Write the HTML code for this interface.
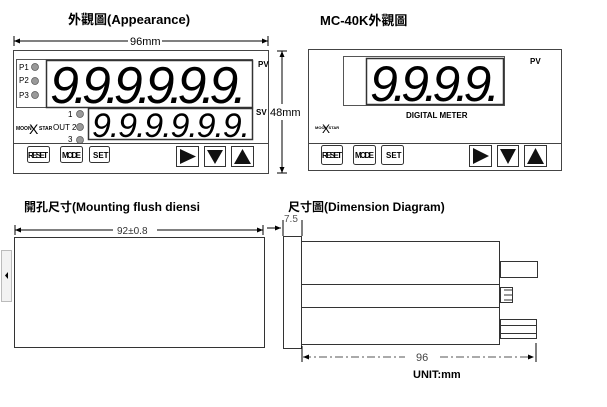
<!DOCTYPE html>
<html><head><meta charset="utf-8"><style>
html,body{margin:0;padding:0;background:#fff;}
svg{display:block;font-family:"Liberation Sans","Noto Sans CJK TC",sans-serif;}
.b{font-weight:bold;}
</style></head><body>
<svg width="607" height="407" viewBox="0 0 607 407" xmlns="http://www.w3.org/2000/svg">
<defs>
<marker id="ar" markerWidth="6" markerHeight="6" refX="6" refY="3" orient="auto"><path d="M0,0.5 L6,3 L0,5.5z" fill="#000"/></marker>
<marker id="al" markerWidth="6" markerHeight="6" refX="0" refY="3" orient="auto"><path d="M6,0.5 L0,3 L6,5.5z" fill="#000"/></marker>
</defs>
<!-- titles -->
<text x="68" y="24" font-size="13" class="b">外觀圖(Appearance)</text>
<text x="320" y="25" font-size="13" class="b">MC-40K外觀圖</text>
<!-- 96mm dim -->
<line x1="14" y1="41" x2="128" y2="41" stroke="#000" marker-start="url(#al)"/>
<line x1="162" y1="41" x2="268" y2="41" stroke="#000" marker-end="url(#ar)"/>
<line x1="14" y1="36" x2="14" y2="46" stroke="#000"/><line x1="268" y1="36" x2="268" y2="46" stroke="#000"/>
<text x="130" y="45" font-size="11">96mm</text>
<!-- left device -->
<rect x="13.5" y="50.5" width="255" height="123" fill="none" stroke="#444"/>
<rect x="16.5" y="59.5" width="236" height="48" fill="none" stroke="#555"/>
<rect x="46.5" y="60.5" width="206" height="47" fill="none" stroke="#333" stroke-width="1.5"/>
<rect x="88.5" y="108.5" width="164" height="31" fill="none" stroke="#333" stroke-width="1.5"/>
<g font-size="8"><text x="19" y="70">P1</text><text x="19" y="83">P2</text><text x="19" y="98">P3</text>
<text x="68" y="117">1</text><text x="53" y="130">OUT 2</text><text x="68" y="142">3</text></g>
<g fill="#999" stroke="#555" stroke-width=".7"><circle cx="35" cy="67" r="3.5"/><circle cx="35" cy="81" r="3.5"/><circle cx="35" cy="95" r="3.5"/>
<circle cx="80" cy="114" r="3.5"/><circle cx="80" cy="127" r="3.5"/><circle cx="80" cy="140" r="3.5"/></g>
<text x="16" y="130" font-size="5" class="b">MOON</text><text x="39" y="130" font-size="5" class="b">STAR</text>
<text x="29" y="134" font-size="14">X</text>
<text x="50" y="103" font-size="52" font-style="italic" letter-spacing="3" transform="scale(1,1)" textLength="200">9.9.9.9.9.9.</text>
<text x="92" y="137" font-size="34" font-style="italic" textLength="158">9.9.9.9.9.9.</text>
<text x="258" y="67" font-size="8" class="b">PV</text>
<text x="256" y="115" font-size="8" class="b">SV</text>
<line x1="13.5" y1="143.5" x2="268" y2="143.5" stroke="#444"/>
<g fill="#fff" stroke="#333"><rect x="27.5" y="146.5" width="22" height="16" rx="2"/><rect x="60.5" y="146.5" width="22" height="16" rx="2"/><rect x="89.5" y="146.5" width="20" height="16" rx="2"/>
<rect x="176.5" y="146.5" width="22" height="20"/><rect x="204.5" y="146.5" width="21" height="20"/><rect x="231.5" y="146.5" width="22" height="20"/></g>
<g font-size="8" class="b"><text x="28" y="158" textLength="20">RESET</text><text x="62" y="158" textLength="19">MODE</text><text x="93" y="158">SET</text></g>
<path d="M180,149 L196,156.5 L180,164z M207,150 L223,150 L215,164z M234,164 L251,164 L242.5,149z" fill="#111"/>
<!-- 48mm -->
<line x1="282" y1="51" x2="282" y2="104" stroke="#000" marker-start="url(#al)"/>
<line x1="282" y1="120" x2="282" y2="173" stroke="#000" marker-end="url(#ar)"/>
<line x1="277" y1="51" x2="287" y2="51" stroke="#000"/><line x1="277" y1="173" x2="287" y2="173" stroke="#000"/>
<text x="270" y="116" font-size="11">48mm</text>
<!-- right device -->
<rect x="308.5" y="49.5" width="253" height="121" fill="none" stroke="#444"/>
<rect x="343.5" y="56.5" width="161" height="49" fill="none" stroke="#555"/>
<rect x="366.5" y="58.5" width="137" height="46" fill="none" stroke="#333" stroke-width="1.5"/>
<text x="370" y="101" font-size="50" font-style="italic" textLength="130">9.9.9.9.</text>
<text x="530" y="64" font-size="8" class="b">PV</text>
<text x="406" y="118" font-size="8" class="b">DIGITAL METER</text>
<text x="315" y="129" font-size="4" class="b">MOON STAR</text><text x="322" y="133" font-size="12">X</text>
<line x1="308.5" y1="143.5" x2="561" y2="143.5" stroke="#444"/>
<g fill="#fff" stroke="#333"><rect x="321.5" y="145.5" width="21" height="19" rx="2"/><rect x="353.5" y="145.5" width="22" height="19" rx="2"/><rect x="381.5" y="145.5" width="22" height="19" rx="2"/>
<rect x="469.5" y="145.5" width="22" height="21"/><rect x="497.5" y="145.5" width="21" height="21"/><rect x="524.5" y="145.5" width="22" height="21"/></g>
<g font-size="8" class="b"><text x="322" y="158" textLength="20">RESET</text><text x="355" y="158" textLength="19">MODE</text><text x="386" y="158">SET</text></g>
<path d="M473,148 L489,156 L473,164z M500,149 L516,149 L508,164z M527,164 L544,164 L535.5,148z" fill="#111"/>
<!-- bottom titles -->
<text x="24" y="211" font-size="12" class="b">開孔尺寸(Mounting flush diensi</text>
<text x="288" y="211" font-size="12" class="b">尺寸圖(Dimension Diagram)</text>
<!-- mounting -->
<line x1="15" y1="230" x2="113" y2="230" stroke="#000" marker-start="url(#al)"/>
<line x1="157" y1="230" x2="263" y2="230" stroke="#000" marker-end="url(#ar)"/>
<line x1="15" y1="225" x2="15" y2="235" stroke="#000"/><line x1="263" y1="225" x2="263" y2="235" stroke="#000"/>
<text x="117" y="234" font-size="10" fill="#333">92±0.8</text>
<rect x="14.5" y="237.5" width="250" height="110" fill="none" stroke="#333"/>
<!-- left tab -->
<rect x="1.5" y="250.5" width="10" height="51" fill="#f2f2f2" stroke="#bbb"/>
<path d="M5,275.5 L8,272 L8,279z" fill="#000"/>
<!-- side view -->
<line x1="267" y1="228" x2="281" y2="228" stroke="#000" marker-end="url(#ar)"/>
<line x1="283" y1="220" x2="283" y2="236" stroke="#000"/>
<line x1="302" y1="220" x2="302" y2="236" stroke="#000"/>
<text x="284" y="222" font-size="10" fill="#555">7.5</text>
<rect x="283.5" y="236.5" width="18" height="112" fill="none" stroke="#333"/>
<rect x="301.5" y="241.5" width="198" height="103" fill="none" stroke="#333"/>
<line x1="302" y1="284.5" x2="500" y2="284.5" stroke="#333"/>
<line x1="302" y1="307.5" x2="500" y2="307.5" stroke="#333"/>
<rect x="500.5" y="261.5" width="37" height="16" fill="none" stroke="#333"/>
<rect x="500.5" y="287.5" width="12" height="15" fill="none" stroke="#333"/>
<line x1="504" y1="290" x2="512" y2="290" stroke="#333"/><line x1="504" y1="295" x2="512" y2="295" stroke="#333"/><line x1="504" y1="300" x2="512" y2="300" stroke="#333"/>
<rect x="500.5" y="319.5" width="36" height="19" fill="none" stroke="#333"/>
<line x1="500" y1="325.5" x2="537" y2="325.5" stroke="#333"/><line x1="500" y1="333.5" x2="537" y2="333.5" stroke="#333"/>
<line x1="302" y1="346" x2="302" y2="362" stroke="#000"/><line x1="536" y1="343" x2="536" y2="362" stroke="#000"/>
<line x1="303" y1="357" x2="405" y2="357" stroke="#555" stroke-dasharray="8,3,2,3" marker-start="url(#al)"/>
<line x1="440" y1="357" x2="534" y2="357" stroke="#555" stroke-dasharray="8,3,2,3" marker-end="url(#ar)"/>
<text x="416" y="361" font-size="11" fill="#444">96</text>
<text x="413" y="378" font-size="11" class="b">UNIT:mm</text>
</svg>
</body></html>
